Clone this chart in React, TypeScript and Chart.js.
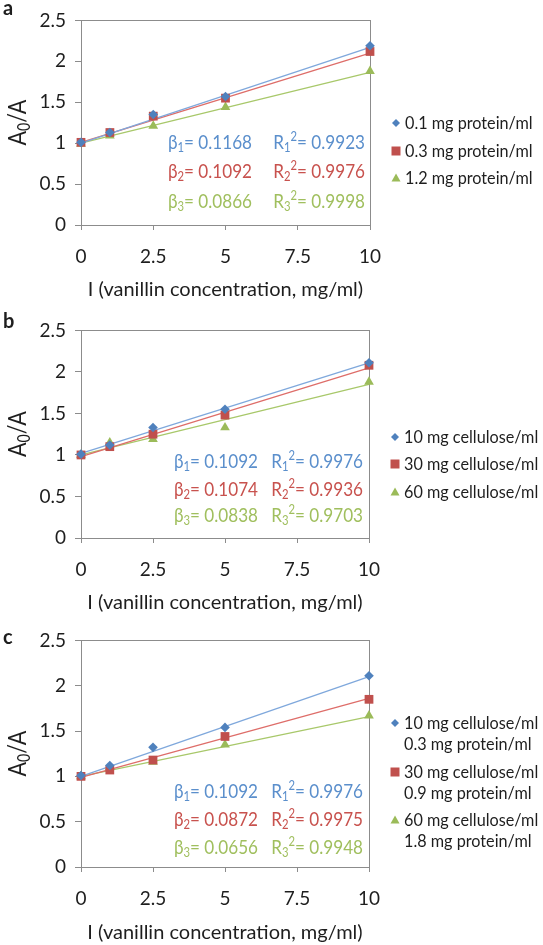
import React, { useEffect, useRef } from 'react';
import { Chart, registerables } from 'chart.js';

Chart.register(...registerables);

// ---------- data ----------
const concentrations = [0, 1, 2.5, 5, 10];
const trendX = [0, 10];
const xTickValues = [0, 2.5, 5, 7.5, 10];
const yTickValues = [0, 0.5, 1, 1.5, 2, 2.5];
const xTitle = 'I (vanillin concentration, mg/ml)';

// panel a
const aLegend = [['0.1 mg protein/ml'], ['0.3 mg protein/ml'], ['1.2 mg protein/ml']];
const aSeries1 = [1.01, 1.13, 1.35, 1.57, 2.19];
const aSeries2 = [1.01, 1.13, 1.33, 1.55, 2.12];
const aSeries3 = [0.99, 1.09, 1.21, 1.44, 1.88];
const aTrend1 = [1.0, 2.17];
const aTrend2 = [1.01, 2.1];
const aTrend3 = [1.0, 1.866];
const aBeta = ['0.1168', '0.1092', '0.0866'];
const aR2 = ['0.9923', '0.9976', '0.9998'];

// panel b
const bLegend = [['10 mg cellulose/ml'], ['30 mg cellulose/ml'], ['60 mg cellulose/ml']];
const bSeries1 = [1.01, 1.12, 1.33, 1.55, 2.11];
const bSeries2 = [1.0, 1.1, 1.25, 1.48, 2.08];
const bSeries3 = [1.0, 1.15, 1.19, 1.33, 1.88];
const bTrend1 = [1.02, 2.11];
const bTrend2 = [0.98, 2.05];
const bTrend3 = [1.0, 1.85];
const bBeta = ['0.1092', '0.1074', '0.0838'];
const bR2 = ['0.9976', '0.9936', '0.9703'];

// panel c
const cLegend = [
  ['10 mg cellulose/ml', '0.3 mg protein/ml'],
  ['30 mg cellulose/ml', '0.9 mg protein/ml'],
  ['60 mg cellulose/ml', '1.8 mg protein/ml'],
];
const cSeries1 = [1.01, 1.12, 1.32, 1.54, 2.11];
const cSeries2 = [1.0, 1.07, 1.18, 1.44, 1.85];
const cSeries3 = [1.0, 1.1, 1.16, 1.35, 1.67];
const cTrend1 = [1.0, 2.1];
const cTrend2 = [0.99, 1.86];
const cTrend3 = [1.0, 1.66];
const cBeta = ['0.1092', '0.0872', '0.0656'];
const cR2 = ['0.9976', '0.9975', '0.9948'];

// ---------- styles ----------
const FONT = 'Lato, "Open Sans", "DejaVu Sans", sans-serif';
const MARKER = ['#4F81BD', '#C0504D', '#9BBB59'];
const LINE = ['#7FA8DC', '#DE6D69', '#A8C86A'];
const TEXT = ['#5B8FCC', '#C8524E', '#A0BF5E'];
const STYLE = ['rectRot', 'rect', 'triangle'];
const RADIUS = [4.8, 6.2, 5.6];
const AXIS = '#8C8C8C';
const INK = '#1E1E1E';
const W = 543;
const NARROW = 0.9;

type Panel = {
  letter: string;
  top: number;
  height: number;
  area: { left: number; right: number; top: number; bottom: number };
  series: number[][];
  trends: number[][];
  legend: string[][];
  beta: string[];
  r2: string[];
  annotRows: number[];
  betaX: number;
  rRight: number;
  legendX: number;
  legendRows: number[];
  letterY: number;
  titlePad: number;
};

const panels: Panel[] = [
  {
    letter: 'a', top: 0, height: 310,
    area: { left: 81, right: 370, top: 10, bottom: 225 },
    series: [aSeries1, aSeries2, aSeries3],
    trends: [aTrend1, aTrend2, aTrend3],
    legend: aLegend, beta: aBeta, r2: aR2,
    annotRows: [143, 172, 202], betaX: 168, rRight: 365,
    legendX: 396, legendRows: [123, 151, 178], letterY: 9, titlePad: 8,
  },
  {
    letter: 'b', top: 310, height: 310,
    area: { left: 81, right: 369, top: 13, bottom: 228 },
    series: [bSeries1, bSeries2, bSeries3],
    trends: [bTrend1, bTrend2, bTrend3],
    legend: bLegend, beta: bBeta, r2: bR2,
    annotRows: [152, 180, 206], betaX: 174, rRight: 363,
    legendX: 395, legendRows: [127, 154, 182], letterY: 12, titlePad: 5,
  },
  {
    letter: 'c', top: 620, height: 325,
    area: { left: 81, right: 369, top: 19, bottom: 247 },
    series: [cSeries1, cSeries2, cSeries3],
    trends: [cTrend1, cTrend2, cTrend3],
    legend: cLegend, beta: cBeta, r2: cR2,
    annotRows: [172, 200, 228], betaX: 174, rRight: 363,
    legendX: 395, legendRows: [103, 152, 200], letterY: 18, titlePad: 0,
  },
];

function drawMarker(ctx: CanvasRenderingContext2D, style: string, x: number, y: number, r: number, color: string) {
  ctx.save();
  ctx.fillStyle = color;
  ctx.beginPath();
  if (style === 'rectRot') {
    ctx.moveTo(x, y - r);
    ctx.lineTo(x + r, y);
    ctx.lineTo(x, y + r);
    ctx.lineTo(x - r, y);
  } else if (style === 'rect') {
    ctx.rect(x - r, y - r, 2 * r, 2 * r);
  } else {
    ctx.moveTo(x, y - r);
    ctx.lineTo(x + r, y + r * 0.8);
    ctx.lineTo(x - r, y + r * 0.8);
  }
  ctx.closePath();
  ctx.fill();
  ctx.restore();
}

type Part = { t: string; sub?: boolean; sup?: boolean };
function partFont(p: Part, size: number) {
  return `${p.sub || p.sup ? size * 0.66 : size}px ${FONT}`;
}
function measureRich(ctx: CanvasRenderingContext2D, parts: Part[], size: number) {
  ctx.save();
  let w = 0;
  for (const p of parts) {
    ctx.font = partFont(p, size);
    w += ctx.measureText(p.t).width;
  }
  ctx.restore();
  return w;
}
function drawRich(ctx: CanvasRenderingContext2D, parts: Part[], x: number, y: number, size: number, color: string, sx = NARROW) {
  ctx.save();
  ctx.translate(x, y);
  ctx.scale(sx, 1);
  ctx.fillStyle = color;
  ctx.textBaseline = 'middle';
  ctx.textAlign = 'left';
  let cx = 0;
  for (const p of parts) {
    ctx.font = partFont(p, size);
    const dy = p.sub ? size * 0.28 : p.sup ? -size * 0.3 : 0;
    ctx.fillText(p.t, cx, dy);
    cx += ctx.measureText(p.t).width;
  }
  ctx.restore();
}

const decorPlugin = {
  id: 'decor',
  beforeDatasetsDraw(chart: any) {
    const { ctx, chartArea } = chart;
    ctx.save();
    ctx.strokeStyle = AXIS;
    ctx.lineWidth = 1;
    ctx.strokeRect(Math.round(chartArea.left) + 0.5, Math.round(chartArea.top) + 0.5,
      Math.round(chartArea.right - chartArea.left), Math.round(chartArea.bottom - chartArea.top));
    ctx.restore();
  },
  afterDraw(chart: any) {
    const p: Panel = chart.options.plugins.decor.panel;
    const { ctx, chartArea } = chart;
    // panel letter
    ctx.save();
    ctx.fillStyle = INK;
    ctx.font = `bold 20px ${FONT}`;
    ctx.textBaseline = 'middle';
    ctx.fillText(p.letter, 3, p.letterY);
    ctx.restore();
    // y title A0/A rotated
    ctx.save();
    const cy = (chartArea.top + chartArea.bottom) / 2;
    ctx.translate(18, cy);
    ctx.rotate(-Math.PI / 2);
    const parts: Part[] = [{ t: 'A' }, { t: '0', sub: true }, { t: '/A' }];
    const tw = measureRich(ctx, parts, 25) * 0.86;
    drawRich(ctx, parts, -tw / 2, 0, 25, INK, 0.86);
    ctx.restore();
    // annotations
    for (let i = 0; i < 3; i++) {
      const y = p.annotRows[i];
      drawRich(ctx, [{ t: 'β' }, { t: String(i + 1), sub: true }, { t: '= ' + p.beta[i] }], p.betaX, y, 19, TEXT[i]);
      const rParts: Part[] = [{ t: 'R' }, { t: String(i + 1), sub: true }, { t: '2', sup: true }, { t: '= ' + p.r2[i] }];
      const rw = measureRich(ctx, rParts, 19) * NARROW;
      drawRich(ctx, rParts, p.rRight - rw, y, 19, TEXT[i]);
    }
    // legend
    for (let i = 0; i < 3; i++) {
      const y = p.legendRows[i];
      drawMarker(ctx, STYLE[i], p.legendX, y, i === 0 ? 4 : 4.5, MARKER[i]);
      p.legend[i].forEach((line, k) => drawRich(ctx, [{ t: line }], p.legendX + 9, y + k * 21, 18, INK));
    }
  },
};

function PanelChart({ panel }: { panel: Panel }) {
  const ref = useRef<HTMLCanvasElement>(null);
  useEffect(() => {
    if (!ref.current) return;
    const p = panel;
    const datasets: any[] = [];
    for (let i = 0; i < 3; i++) {
      datasets.push({
        type: 'scatter',
        label: p.legend[i].join(' '),
        data: concentrations.map((x, k) => ({ x, y: p.series[i][k] })),
        pointStyle: STYLE[i],
        pointRadius: RADIUS[i],
        backgroundColor: MARKER[i],
        borderColor: MARKER[i],
        borderWidth: 0,
        showLine: false,
        clip: false,
        order: 1,
      });
    }
    for (let i = 0; i < 3; i++) {
      datasets.push({
        type: 'scatter',
        label: 'trend ' + (i + 1),
        data: trendX.map((x, k) => ({ x, y: p.trends[i][k] })),
        showLine: true,
        pointRadius: 0,
        borderColor: LINE[i],
        borderWidth: 1.3,
        backgroundColor: LINE[i],
        clip: false,
        order: 2,
      });
    }
    const chart = new Chart(ref.current, {
      type: 'scatter',
      data: { datasets },
      options: {
        responsive: false,
        animation: false,
        devicePixelRatio: 1,
        layout: { padding: { left: 0, right: W - p.area.right, top: p.area.top, bottom: 0 } },
        plugins: {
          legend: { display: false },
          tooltip: { enabled: false },
          decor: { panel: p },
        } as any,
        scales: {
          x: {
            type: 'linear',
            min: 0,
            max: 10,
            afterBuildTicks: (s: any) => { s.ticks = xTickValues.map((v) => ({ value: v })); },
            afterFit: (s: any) => { s.height = p.height - p.area.bottom; },
            ticks: { callback: (v: any) => String(v), font: { family: FONT, size: 19 }, color: INK, padding: 15, maxRotation: 0, autoSkip: false },
            grid: { drawOnChartArea: false, drawTicks: true, tickLength: 5, color: AXIS, lineWidth: 1 },
            border: { display: true, color: AXIS, width: 1 },
            title: { display: true, text: xTitle, font: { family: FONT, size: 20 }, color: INK, padding: { top: 0, bottom: p.titlePad } },
          },
          y: {
            type: 'linear',
            min: 0,
            max: 2.5,
            afterBuildTicks: (s: any) => { s.ticks = yTickValues.map((v) => ({ value: v })); },
            afterFit: (s: any) => { s.width = p.area.left; },
            ticks: { callback: (v: any) => String(v), font: { family: FONT, size: 19 }, color: INK, padding: 9 },
            grid: { drawOnChartArea: false, drawTicks: true, tickLength: 6, color: AXIS, lineWidth: 1 },
            border: { display: true, color: AXIS, width: 1 },
          },
        },
      },
      plugins: [decorPlugin],
    } as any);
    return () => chart.destroy();
  }, [panel]);
  return (
    <canvas
      ref={ref}
      width={W}
      height={panel.height}
      style={{ position: 'absolute', left: 0, top: panel.top, width: W, height: panel.height }}
    />
  );
}

export default function App() {
  return (
    <div style={{ position: 'absolute', left: 0, top: 0, width: W, height: 945, background: '#fff' }}>
      {panels.map((p) => (
        <PanelChart key={p.letter} panel={p} />
      ))}
    </div>
  );
}
